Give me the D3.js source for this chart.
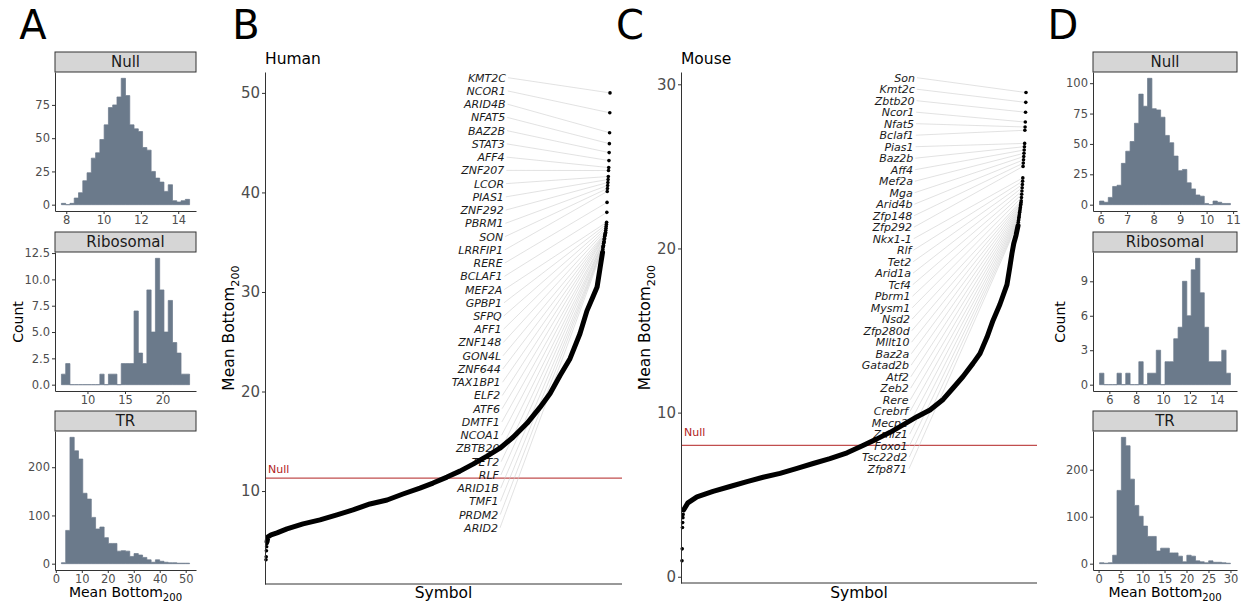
<!DOCTYPE html>
<html>
<head>
<meta charset="utf-8">
<script src="https://cdn.jsdelivr.net/npm/d3@7"></script>
<style>
  body { margin: 0; background: #ffffff; }
  text { font-family: "DejaVu Sans", sans-serif; }
</style>
</head>
<body>
<svg id="fig" width="1245" height="606"></svg>
<script>
// ============================================================
// Data
// ============================================================

// Histogram counts (30 bins each) and the [first bin start, last bin end]
const humanNullCounts = [1, 0, 1, 5, 9, 18, 24, 35, 39, 49, 60, 73, 75, 81, 95, 82, 60, 57, 55, 43, 41, 25, 20, 17, 10, 15, 3, 2, 3, 4];
const humanNullRange = [7.74, 14.61];
const humanRiboCounts = [1, 2, 0, 0, 0, 0, 0, 0, 0, 1, 0, 1, 1, 0, 2, 2, 2, 7, 3, 2, 9, 5, 12, 9, 5, 8, 4, 3, 1, 1];
const humanRiboRange = [6.53, 23.6];
const humanTRCounts = [2, 69, 262, 234, 217, 146, 134, 96, 72, 76, 54, 42, 42, 26, 27, 26, 15, 21, 18, 13, 8, 3, 8, 5, 3, 2, 2, 1, 1, 1];
const humanTRRange = [2.15, 51.5];

const mouseNullCounts = [3, 2, 6, 15, 16, 34, 44, 52, 67, 91, 81, 104, 79, 78, 72, 57, 51, 40, 28, 29, 18, 13, 8, 7, 1, 0, 3, 2, 1, 1];
const mouseNullRange = [5.96, 10.9];
const mouseRiboCounts = [1, 0, 0, 0, 1, 0, 1, 0, 0, 2, 0, 1, 1, 3, 0, 2, 2, 4, 5, 9, 6, 10, 11, 8, 5, 2, 2, 2, 3, 1];
const mouseRiboRange = [5.27, 15.02];
const mouseTRCounts = [2, 1, 2, 18, 156, 269, 251, 180, 124, 101, 80, 58, 58, 27, 33, 33, 23, 23, 16, 4, 18, 16, 6, 4, 2, 6, 3, 3, 2, 1];
const mouseTRRange = [0.22, 30.0];

// Tick labels for the histograms
const humanXTicks = [[8, 10, 12, 14], [10, 15, 20], [0, 10, 20, 30, 40, 50]];
const humanYTicks = [[0, 25, 50, 75], [0, 2.5, 5, 7.5, 10, 12.5], [0, 100, 200]];
const mouseXTicks = [[6, 7, 8, 9, 10, 11], [6, 8, 10, 12, 14], [0, 5, 10, 15, 20, 25, 30]];
const mouseYTicks = [[0, 25, 50, 75, 100], [0, 3, 6, 9], [0, 100, 200]];
const facetNames = ["Null", "Ribosomal", "TR"];

// Ranked curves (rank -> mean bottom200), sampled along the picture
const humanTotal = 1626;
const humanLowValues = [3.1, 3.4, 4.0, 4.4, 4.7];          // ranks 1..5
const humanRanks = [6, 10, 25, 53, 100, 176, 256, 336, 412, 492, 573, 648, 728, 790, 856, 917, 979, 1045, 1106, 1168, 1234, 1295, 1343, 1390, 1437, 1484, 1517, 1545, 1565, 1579, 1591];
const humanValues = [4.9, 5.4, 5.6, 5.8, 6.2, 6.7, 7.1, 7.6, 8.1, 8.7, 9.1, 9.7, 10.3, 10.8, 11.4, 12.0, 12.7, 13.5, 14.3, 15.4, 16.8, 18.4, 19.8, 21.6, 23.3, 25.8, 28.1, 29.5, 30.5, 32.4, 34.0];
const humanGenes = ["KMT2C", "NCOR1", "ARID4B", "NFAT5", "BAZ2B", "STAT3", "AFF4", "ZNF207", "LCOR", "PIAS1", "ZNF292", "PBRM1", "SON", "LRRFIP1", "RERE", "BCLAF1", "MEF2A", "GPBP1", "SFPQ", "AFF1", "ZNF148", "GON4L", "ZNF644", "TAX1BP1", "ELF2", "ATF6", "DMTF1", "NCOA1", "ZBTB20", "TET2", "RLF", "ARID1B", "TMF1", "PRDM2", "ARID2"];
const humanTopValues = [50.0, 48.0, 46.0, 44.9, 44.0, 43.2, 42.5, 42.2, 41.6, 41.3, 41.0, 40.7, 40.4, 40.1, 39.0, 38.0, 37.0, 36.8, 36.6, 36.4, 36.2, 36.0, 35.9, 35.8, 35.7, 35.6, 35.4, 35.3, 35.1, 35.0, 34.9, 34.7, 34.6, 34.5, 34.3];
const humanNull = 11.3;

const mouseTotal = 1520;
const mouseLowValues = [0.98, 1.7, 3.0, 3.3, 3.6, 3.8];    // ranks 1..6
const mouseRanks = [8, 27, 67, 138, 213, 288, 359, 434, 509, 580, 654, 730, 800, 862, 920, 977, 1039, 1096, 1154, 1198, 1242, 1286, 1317, 1348, 1374, 1405, 1436, 1449, 1458, 1466, 1476, 1485];
const mouseValues = [4.07, 4.5, 4.87, 5.2, 5.5, 5.8, 6.06, 6.3, 6.6, 6.9, 7.2, 7.55, 8.0, 8.4, 8.8, 9.25, 9.75, 10.16, 10.8, 11.5, 12.2, 13.0, 13.6, 14.6, 15.6, 16.6, 17.8, 18.9, 19.7, 20.3, 20.8, 21.4];
const mouseGenes = ["Son", "Kmt2c", "Zbtb20", "Ncor1", "Nfat5", "Bclaf1", "Pias1", "Baz2b", "Aff4", "Mef2a", "Mga", "Arid4b", "Zfp148", "Zfp292", "Nkx1-1", "Rlf", "Tet2", "Arid1a", "Tcf4", "Pbrm1", "Mysm1", "Nsd2", "Zfp280d", "Mllt10", "Baz2a", "Gatad2b", "Atf2", "Zeb2", "Rere", "Crebrf", "Mecp2", "Zmiz1", "Foxo1", "Tsc22d2", "Zfp871"];
const mouseTopValues = [29.5, 28.9, 28.3, 27.7, 27.4, 27.2, 26.4, 26.2, 26.0, 25.8, 25.6, 25.4, 25.2, 25.0, 24.3, 24.1, 23.9, 23.7, 23.5, 23.3, 23.1, 22.9, 22.8, 22.7, 22.6, 22.5, 22.4, 22.3, 22.2, 22.1, 22.0, 21.9, 21.8, 21.7, 21.6];
const mouseNull = 8.0;

// ============================================================
// Shared styling
// ============================================================
const BAR_FILL = "#6b7a8b";
const AXIS_COL = "#333333";
const TICK_TEXT = "#4d4d4d";
const NULL_COL = "#b22222";

const svg = d3.select("#fig");

function styleAxis(g, fontSize) {
    g.attr("font-family", "DejaVu Sans").attr("font-size", fontSize);
    g.select(".domain").attr("stroke", AXIS_COL).attr("stroke-width", 1);
    g.selectAll(".tick line").attr("stroke", AXIS_COL);
    g.selectAll(".tick text").attr("fill", TICK_TEXT);
}

// Axis title with a "200" subscript
function meanBottomTitle(g, x, y, size, rotate) {
    const t = g.append("text")
        .attr("transform", "translate(" + x + "," + y + ")" + (rotate ? " rotate(-90)" : ""))
        .attr("text-anchor", "middle")
        .attr("fill", "#000")
        .attr("font-size", size);
    t.append("tspan").text("Mean Bottom");
    t.append("tspan").attr("font-size", size * 0.72).attr("dy", size * 0.3).text("200");
}

// ============================================================
// Histogram column (panels A and D)
// ============================================================
function drawHistColumn(cfg) {
    const g = svg.append("g");
    const stripTops = [52, 232, 411];
    const stripH = 20;
    const plotH = 139;

    cfg.facets.forEach(function (f, k) {
        const top = stripTops[k] + stripH;
        const bottom = top + plotH;
        const lo = f.range[0], hi = f.range[1];
        const pad = (hi - lo) * 0.05;
        const maxC = d3.max(f.counts);

        const x = d3.scaleLinear().domain([lo - pad, hi + pad]).range([cfg.left, cfg.right]);
        const y = d3.scaleLinear().domain([-maxC * 0.05, maxC * 1.05]).range([bottom, top]);
        const bw = (hi - lo) / f.counts.length;

        // strip
        g.append("rect")
            .attr("x", cfg.left).attr("y", stripTops[k])
            .attr("width", cfg.right - cfg.left).attr("height", stripH)
            .attr("fill", "#d6d6d6").attr("stroke", AXIS_COL).attr("stroke-width", 1);
        g.append("text")
            .attr("x", (cfg.left + cfg.right) / 2).attr("y", stripTops[k] + stripH / 2)
            .attr("dy", "0.36em").attr("text-anchor", "middle")
            .attr("font-size", 15).attr("fill", "#1a1a1a")
            .text(facetNames[k]);

        // bars as one stepped area so neighbouring bins have no seams
        const steps = f.counts.map(function (c, i) { return [lo + i * bw, c]; });
        steps.push([hi, f.counts[f.counts.length - 1]]);
        g.append("path")
            .datum(steps)
            .attr("d", d3.area()
                .curve(d3.curveStepAfter)
                .x(function (d) { return x(d[0]); })
                .y0(y(0))
                .y1(function (d) { return y(d[1]); }))
            .attr("fill", BAR_FILL)
            .attr("stroke", BAR_FILL)
            .attr("stroke-width", 0.7);

        // axes
        const ya = g.append("g")
            .attr("transform", "translate(" + cfg.left + ",0)")
            .call(d3.axisLeft(y).tickValues(f.yTicks).tickSize(3).tickPadding(2).tickSizeOuter(0)
                .tickFormat(f.yFormat));
        styleAxis(ya, 11.5);
        const xa = g.append("g")
            .attr("transform", "translate(0," + bottom + ")")
            .call(d3.axisBottom(x).tickValues(f.xTicks).tickSize(3).tickPadding(2).tickSizeOuter(0)
                .tickFormat(d3.format("d")));
        styleAxis(xa, 11.5);
    });

    // "Count" title and x title
    g.append("text")
        .attr("transform", "translate(" + cfg.countX + ",322) rotate(-90)")
        .attr("text-anchor", "middle").attr("font-size", 14).attr("fill", "#000")
        .text("Count");
    meanBottomTitle(g, (cfg.left + cfg.right) / 2, 597, 14, false);
}

// ============================================================
// Ranked curve panel (panels B and C)
// ============================================================
function drawRankPanel(cfg) {
    const g = svg.append("g");

    const x = d3.scaleLinear().domain([1, cfg.total]).range([cfg.pointLeft, cfg.pointRight]);
    const y = d3.scaleLinear().domain(cfg.yDomain).range([cfg.bottom, cfg.top]);

    // title
    g.append("text")
        .attr("x", cfg.axisLeft).attr("y", 64)
        .attr("font-size", 15.5).attr("fill", "#000")
        .text(cfg.title);

    // null line
    g.append("line")
        .attr("x1", cfg.axisLeft).attr("x2", cfg.axisRight)
        .attr("y1", y(cfg.nullValue)).attr("y2", y(cfg.nullValue))
        .attr("stroke", NULL_COL).attr("stroke-opacity", 0.8).attr("stroke-width", 1.2);
    g.append("text")
        .attr("x", cfg.axisLeft + 3).attr("y", y(cfg.nullLabelAt))
        .attr("font-size", 11).attr("fill", NULL_COL)
        .text("Null");

    // top genes: ranks total, total-1, ...
    const top = cfg.topValues.map(function (v, i) {
        return { gene: cfg.genes[i], rank: cfg.total - i, value: v };
    });
    const n = top.length - 1;

    // repel-style labels in a column with grey leader lines
    g.append("g").selectAll("line")
        .data(top)
        .enter()
        .append("line")
        .attr("x1", function (d, i) { return cfg.labelRight[0] + (cfg.labelRight[1] - cfg.labelRight[0]) * i / n + 2; })
        .attr("y1", function (d, i) { return cfg.labelTop + i * cfg.labelStep; })
        .attr("x2", function (d) { return x(d.rank); })
        .attr("y2", function (d) { return y(d.value); })
        .attr("stroke", "#cfcfcf").attr("stroke-width", 0.6);

    g.append("g").selectAll("text")
        .data(top)
        .enter()
        .append("text")
        .attr("x", function (d, i) { return cfg.labelRight[0] + (cfg.labelRight[1] - cfg.labelRight[0]) * i / n; })
        .attr("y", function (d, i) { return cfg.labelTop + i * cfg.labelStep; })
        .attr("dy", "0.36em")
        .attr("text-anchor", "end")
        .attr("font-size", 11)
        .attr("font-style", "italic")
        .attr("fill", "#1a1a1a")
        .text(function (d) { return d.gene; });

    // dense part of the curve
    const curve = cfg.ranks.map(function (r, i) { return [r, cfg.values[i]]; });
    g.append("path")
        .datum(curve)
        .attr("d", d3.line().x(function (d) { return x(d[0]); }).y(function (d) { return y(d[1]); }))
        .attr("fill", "none")
        .attr("stroke", "#000")
        .attr("stroke-width", 5)
        .attr("stroke-linejoin", "round")
        .attr("stroke-linecap", "round");

    // individual points: lowest ranks, the sampled curve and the labelled top genes
    const pts = cfg.lowValues.map(function (v, i) { return [i + 1, v]; })
        .concat(curve)
        .concat(top.map(function (d) { return [d.rank, d.value]; }));
    g.append("g").selectAll("circle")
        .data(pts)
        .enter()
        .append("circle")
        .attr("cx", function (d) { return x(d[0]); })
        .attr("cy", function (d) { return y(d[1]); })
        .attr("r", 1.8)
        .attr("fill", "#000");

    // axes (no x ticks)
    const ya = g.append("g")
        .attr("transform", "translate(" + cfg.axisLeft + ",0)")
        .call(d3.axisLeft(y).tickValues(cfg.yTicks).tickSize(3).tickPadding(2).tickSizeOuter(0)
            .tickFormat(d3.format("d")));
    styleAxis(ya, 15);
    g.append("line")
        .attr("x1", cfg.axisLeft).attr("x2", cfg.axisRight)
        .attr("y1", cfg.bottom).attr("y2", cfg.bottom)
        .attr("stroke", AXIS_COL).attr("stroke-width", 1);

    g.append("text")
        .attr("x", (cfg.axisLeft + cfg.axisRight) / 2).attr("y", 598)
        .attr("text-anchor", "middle").attr("font-size", 15.5).attr("fill", "#000")
        .text("Symbol");
    meanBottomTitle(g, cfg.yTitleX, (cfg.top + cfg.bottom) / 2, 15.5, true);
}

// ============================================================
// Build the figure
// ============================================================
drawHistColumn({
    left: 55, right: 196, countX: 23,
    facets: [
        { counts: humanNullCounts, range: humanNullRange, xTicks: humanXTicks[0], yTicks: humanYTicks[0], yFormat: d3.format("d") },
        { counts: humanRiboCounts, range: humanRiboRange, xTicks: humanXTicks[1], yTicks: humanYTicks[1], yFormat: d3.format(".1f") },
        { counts: humanTRCounts, range: humanTRRange, xTicks: humanXTicks[2], yTicks: humanYTicks[2], yFormat: d3.format("d") }
    ]
});

drawHistColumn({
    left: 1093, right: 1237, countX: 1065,
    facets: [
        { counts: mouseNullCounts, range: mouseNullRange, xTicks: mouseXTicks[0], yTicks: mouseYTicks[0], yFormat: d3.format("d") },
        { counts: mouseRiboCounts, range: mouseRiboRange, xTicks: mouseXTicks[1], yTicks: mouseYTicks[1], yFormat: d3.format("d") },
        { counts: mouseTRCounts, range: mouseTRRange, xTicks: mouseXTicks[2], yTicks: mouseYTicks[2], yFormat: d3.format("d") }
    ]
});

drawRankPanel({
    title: "Human",
    axisLeft: 265, axisRight: 622, top: 72, bottom: 584,
    pointLeft: 266, pointRight: 610,
    yDomain: [0.66, 52.1], yTicks: [10, 20, 30, 40, 50], yTitleX: 234,
    total: humanTotal, lowValues: humanLowValues, ranks: humanRanks, values: humanValues,
    genes: humanGenes, topValues: humanTopValues,
    nullValue: humanNull, nullLabelAt: 11.8,
    labelTop: 77.7, labelStep: 13.24, labelRight: [506, 498]
});

drawRankPanel({
    title: "Mouse",
    axisLeft: 681, axisRight: 1037, top: 72, bottom: 583,
    pointLeft: 682, pointRight: 1026,
    yDomain: [-0.38, 30.75], yTicks: [0, 10, 20, 30], yTitleX: 650,
    total: mouseTotal, lowValues: mouseLowValues, ranks: mouseRanks, values: mouseValues,
    genes: mouseGenes, topValues: mouseTopValues,
    nullValue: mouseNull, nullLabelAt: 8.6,
    labelTop: 77.7, labelStep: 11.5, labelRight: [915, 907]
});

// Panel letters
const panelLetters = ["A", "B", "C", "D"];
const letterX = [33, 246, 630, 1063];
svg.append("g").selectAll("text")
    .data(panelLetters)
    .enter()
    .append("text")
    .attr("x", function (d, i) { return letterX[i]; })
    .attr("y", 39)
    .attr("text-anchor", "middle")
    .attr("font-family", "Liberation Sans, Arial, sans-serif")
    .attr("font-size", 40)
    .attr("fill", "#000")
    .text(function (d) { return d; });
</script>
</body>
</html>
